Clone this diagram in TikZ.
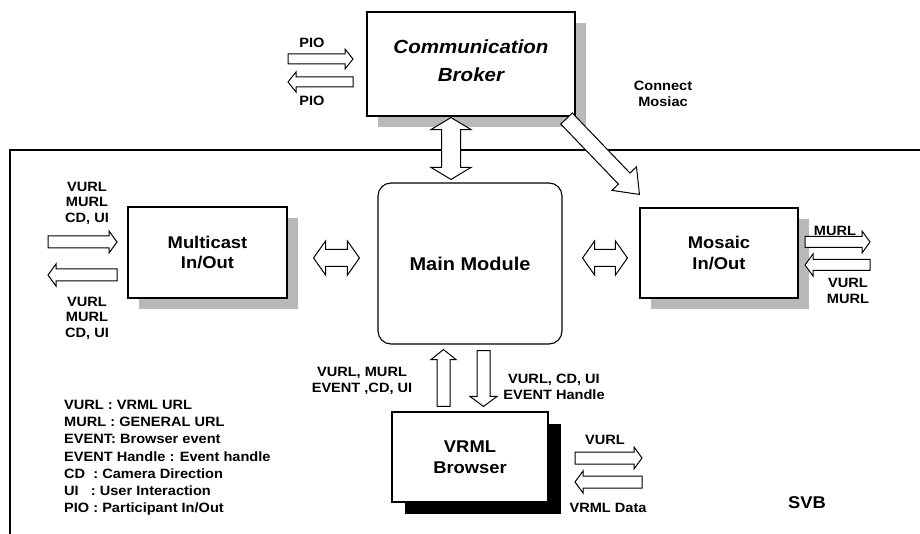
\documentclass[tikz,border=0pt]{standalone}
\usepackage{fontspec}
\setmainfont{Liberation Sans}[FakeStretch=1.08]
\usetikzlibrary{calc, positioning, shadows}

\tikzset{
  box/.style={draw, line width=1.1pt, fill=white, inner sep=0pt, align=center,
    font=\bfseries\fontsize{17}{20.5}\selectfont},
  grayshade/.style={drop shadow={shadow xshift=11pt, shadow yshift=-11pt, fill=gray!55, opacity=1}},
  blackshade/.style={drop shadow={shadow xshift=13pt, shadow yshift=-12pt, fill=black, opacity=1}},
  fat/.style={draw, line width=1pt, fill=white, line join=miter},
  lbl/.style={align=center, inner sep=0pt},
  frame/.style={line width=1.2pt}
}

% block arrow: from, to, shaft half width, head half width, head length
\newcommand{\fatarrow}[5]{%
  \coordinate (fa-h) at ($(#2)!#5!(#1)$);
  \draw[fat] ($(#1)!#3!90:(#2)$) -- ($(fa-h)!#3!90:(#2)$) -- ($(fa-h)!#4!90:(#2)$)
    -- (#2) -- ($(fa-h)!#4!-90:(#2)$) -- ($(fa-h)!#3!-90:(#2)$) -- ($(#1)!#3!-90:(#2)$) -- cycle;}
% block arrow with a head at both ends
\newcommand{\fatdouble}[5]{%
  \coordinate (fa-a) at ($(#1)!#5!(#2)$);
  \coordinate (fa-b) at ($(#2)!#5!(#1)$);
  \draw[fat] (#1) -- ($(fa-a)!#4!90:(#2)$) -- ($(fa-a)!#3!90:(#2)$) -- ($(fa-b)!#3!90:(#2)$)
    -- ($(fa-b)!#4!90:(#2)$) -- (#2) -- ($(fa-b)!#4!-90:(#2)$) -- ($(fa-b)!#3!-90:(#2)$)
    -- ($(fa-a)!#3!-90:(#2)$) -- ($(fa-a)!#4!-90:(#2)$) -- cycle;}

\begin{document}
\begin{tikzpicture}[x=1pt, y=-1pt, font=\bfseries\fontsize{13.5}{15.5}\selectfont]
  \useasboundingbox[fill=white] (0,0) rectangle (920,534);

  % SVB frame
  \draw[frame] (10,545) -- (10,150) -- (935,150);
  \node[font=\bfseries\fontsize{17}{20}\selectfont] (svb) at (807,503) {SVB};

  % Blocks
  \node[box, grayshade, minimum width=208pt, minimum height=104pt] (broker) at (471,64) {};
  \node[font=\bfseries\itshape\fontsize{19}{28}\selectfont, lbl] (brokertxt) at ($(broker.center)+(0,-3)$) {Communication\\Broker};
  \node[box, rounded corners=13pt, minimum width=184pt, minimum height=161pt,
    font=\bfseries\fontsize{18.5}{22}\selectfont] (main) at (470,263.5) {Main Module};
  \node[box, grayshade, minimum width=159pt, minimum height=91pt] (multicast) at (207.5,252.5) {Multicast\\In/Out};
  \node[box, grayshade, minimum width=158pt, minimum height=90pt] (mosaic) at (719,253) {Mosaic\\In/Out};
  \node[box, blackshade, minimum width=156pt, minimum height=90pt] (browser) at (470,457) {VRML\\Browser};

  % Broker side
  \coordinate (pioA) at (288,59);  \coordinate (pioB) at (353,59);
  \coordinate (pioC) at (353,82);  \coordinate (pioD) at (288,82);
  \fatarrow{pioA}{pioB}{5pt}{10pt}{8pt}
  \fatarrow{pioC}{pioD}{5pt}{10pt}{8pt}
  \node[lbl] (pioin) at (312,43) {PIO};
  \node[lbl] (pioout) at (312,101) {PIO};

  \coordinate (bmA) at ($(broker.south)+(-20,1)$);
  \coordinate (bmB) at ($(main.north)+(-19,-3)$);
  \fatdouble{bmA}{bmB}{9.5pt}{20pt}{12pt}

  \coordinate (cmA) at ($(broker.south east)+(-9,2)$);
  \coordinate (cmB) at ($(mosaic.north west)+(0,-13)$);
  \fatarrow{cmA}{cmB}{8pt}{17pt}{22pt}
  \node[lbl] (cmtxt) at (663,94) {Connect\\Mosiac};

  % Multicast side
  \coordinate (mcA) at (48,242);   \coordinate (mcB) at (117,242);
  \coordinate (mcC) at (117,275);  \coordinate (mcD) at (48,275);
  \fatarrow{mcA}{mcB}{6pt}{11pt}{8pt}
  \fatarrow{mcC}{mcD}{6pt}{11pt}{8pt}
  \node[lbl] (mcin) at (87,203) {VURL\\MURL\\CD, UI};
  \node[lbl] (mcout) at (87,318) {VURL\\MURL\\CD, UI};

  \coordinate (mmA) at ($(multicast.east)+(26,5.5)$);
  \coordinate (mmB) at ($(main.west)+(-18,-5.5)$);
  \fatdouble{mmA}{mmB}{8.5pt}{17pt}{12pt}

  % Mosaic side
  \coordinate (moA) at ($(main.east)+(20,-5.5)$);
  \coordinate (moB) at ($(mosaic.west)+(-12,5)$);
  \fatdouble{moA}{moB}{8.5pt}{17pt}{12pt}

  \coordinate (msA) at (805,242);  \coordinate (msB) at (870,242);
  \coordinate (msC) at (870,265);  \coordinate (msD) at (805,265);
  \fatarrow{msA}{msB}{5.5pt}{11pt}{8pt}
  \fatarrow{msC}{msD}{5.5pt}{11pt}{8pt}
  \node[lbl] (msout) at (835,231) {MURL};
  \node[lbl] (msin) at (848,291) {VURL\\MURL};

  % Browser side
  \coordinate (upA) at ($(browser.north)+(-26.5,-5)$);
  \coordinate (upB) at ($(main.south)+(-26.5,5)$);
  \fatarrow{upA}{upB}{6.5pt}{12.5pt}{10pt}
  \coordinate (dnA) at ($(main.south)+(13.5,6)$);
  \coordinate (dnB) at ($(browser.north)+(13.5,-5)$);
  \fatarrow{dnA}{dnB}{6.5pt}{13.5pt}{10pt}
  \node[lbl] (uptxt) at (362,381) {VURL, MURL\\EVENT ,CD, UI};
  \node[lbl] (dntxt) at (554,387) {VURL, CD, UI\\EVENT Handle};

  \coordinate (vbA) at (575,458);  \coordinate (vbB) at (642,458);
  \coordinate (vbC) at (642,482);  \coordinate (vbD) at (575,482);
  \fatarrow{vbA}{vbB}{6pt}{11pt}{8pt}
  \fatarrow{vbC}{vbD}{6pt}{11pt}{8pt}
  \node[lbl] (vburl) at (605,440) {VURL};
  \node[lbl] (vbdata) at (608,508) {VRML Data};

  % Legend
  \node[lbl, align=left, anchor=north west, font=\bfseries\fontsize{13.5}{17.2}\selectfont] (legend) at (64,400) {%
    VURL : VRML URL\\
    MURL : GENERAL URL\\
    EVENT: Browser event\\
    EVENT Handle : Event handle\\
    CD\ \ : Camera Direction\\
    UI\ \ \ : User Interaction\\
    PIO : Participant In/Out};
\end{tikzpicture}
\end{document}
